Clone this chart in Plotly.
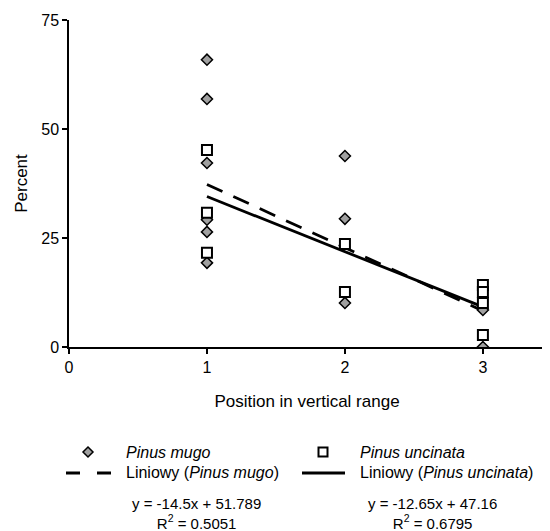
import plotly.graph_objects as go

# ---- data ----
mugo_x = [1, 1, 1, 1, 1, 1, 2, 2, 2, 3, 3]
mugo_y = [65.9, 56.9, 42.2, 29.2, 26.4, 19.3, 43.8, 29.4, 10.1, 8.5, 0.0]
unc_x = [1, 1, 1, 2, 2, 3, 3, 3, 3]
unc_y = [45.2, 30.8, 21.6, 23.6, 12.6, 14.2, 12.6, 10.1, 2.75]
trend_x = [1, 3]
mugo_coef = [-14.5, 51.789]     # slope, intercept
unc_coef = [-12.65, 47.16]
mugo_r2 = "0.5051"
unc_r2 = "0.6795"
x_ticks = [0, 1, 2, 3]
y_ticks = [0, 25, 50, 75]

FONT = "Liberation Sans, Arial, sans-serif"
OFF = 8  # page body margin
W, H = 550 - OFF, 531 - OFF
L, T = 69 - OFF, 20 - OFF
R = W - (545 - OFF)
B = H - (347 - OFF)
PW, PH = W - L - R, H - T - B

def px(x):  # page x -> paper
    return (x - OFF - L) / PW

def py(y):  # page y -> paper
    return (H - B - (y - OFF)) / PH

fig = go.Figure()

mugo_line_y = [mugo_coef[0] * x + mugo_coef[1] for x in trend_x]
unc_line_y = [unc_coef[0] * x + unc_coef[1] for x in trend_x]

fig.add_trace(go.Scatter(x=trend_x, y=mugo_line_y, mode="lines",
                         line=dict(color="black", width=2.8, dash="17px,12px"),
                         showlegend=False, hoverinfo="skip"))
fig.add_trace(go.Scatter(x=trend_x, y=unc_line_y, mode="lines",
                         line=dict(color="black", width=2.8),
                         showlegend=False, hoverinfo="skip"))
fig.add_trace(go.Scatter(x=mugo_x, y=mugo_y, mode="markers",
                         marker=dict(symbol="diamond", size=8.5, color="#a0a0a0",
                                     line=dict(color="black", width=1.5)),
                         showlegend=False))
fig.add_trace(go.Scatter(x=unc_x, y=unc_y, mode="markers",
                         marker=dict(symbol="square", size=10, color="white",
                                     line=dict(color="black", width=2)),
                         showlegend=False))

shapes = []
annotations = []

r1, r2 = 452, 473
d = 5
shapes.append(dict(type="path", xref="paper", yref="paper",
                   path=f"M {px(88)} {py(r1-d)} L {px(88+d)} {py(r1)} L {px(88)} {py(r1+d)} L {px(88-d)} {py(r1)} Z",
                   fillcolor="#a0a0a0", line=dict(color="black", width=1.5)))
shapes.append(dict(type="rect", xref="paper", yref="paper",
                   x0=px(323-4.5), x1=px(323+4.5), y0=py(r1+4.5), y1=py(r1-4.5),
                   fillcolor="white", line=dict(color="black", width=2)))
shapes.append(dict(type="line", xref="paper", yref="paper",
                   x0=px(66), x1=px(111), y0=py(r2), y1=py(r2),
                   line=dict(color="black", width=2.8, dash="14px,17px")))
shapes.append(dict(type="line", xref="paper", yref="paper",
                   x0=px(302), x1=px(345), y0=py(r2), y1=py(r2),
                   line=dict(color="black", width=2.8)))

def txt(x, y, s, anchor="left", size=16):
    annotations.append(dict(x=px(x), y=py(y), xref="paper", yref="paper", text=s,
                            showarrow=False, xanchor=anchor, yanchor="middle",
                            font=dict(family=FONT, size=size, color="black")))

txt(124, r1, "<i>Pinus mugo</i>")
txt(358, r1, "<i>Pinus uncinata</i>")
txt(124, r2, "Liniowy (<i>Pinus mugo</i>)")
txt(358, r2, "Liniowy (<i>Pinus uncinata</i>)")

def eq(coef, r2v):
    sign = "+" if coef[1] >= 0 else "-"
    return f"y = {coef[0]:g}x {sign} {abs(coef[1]):g}<br>R<sup>2</sup> = {r2v}"

for cx, coef, r2v in [(196, mugo_coef, mugo_r2), (432, unc_coef, unc_r2)]:
    annotations.append(dict(x=px(cx), y=py(513), xref="paper", yref="paper",
                            text=eq(coef, r2v), showarrow=False,
                            xanchor="center", yanchor="middle", align="center",
                            font=dict(family=FONT, size=15, color="black")))

fig.update_layout(
    width=W, height=H,
    margin=dict(l=L, r=R, t=T, b=B, pad=0),
    paper_bgcolor="white", plot_bgcolor="white",
    font=dict(family=FONT, size=16, color="black"),
    shapes=shapes, annotations=annotations,
    xaxis=dict(range=[0, 3.45], tickvals=x_ticks, ticks="outside", ticklen=5,
               tickwidth=1.5, tickcolor="black", showline=True, linecolor="black",
               linewidth=1.5, showgrid=False, zeroline=False,
               title=dict(text="Position in vertical range", standoff=20,
                          font=dict(size=17))),
    yaxis=dict(range=[0, 75], tickvals=y_ticks, ticks="outside", ticklen=5,
               tickwidth=1.5, tickcolor="black", showline=True, linecolor="black",
               linewidth=1.5, showgrid=False, zeroline=False,
               title=dict(text="Percent", standoff=9, font=dict(size=17))),
)

fig.write_html("out.html")
